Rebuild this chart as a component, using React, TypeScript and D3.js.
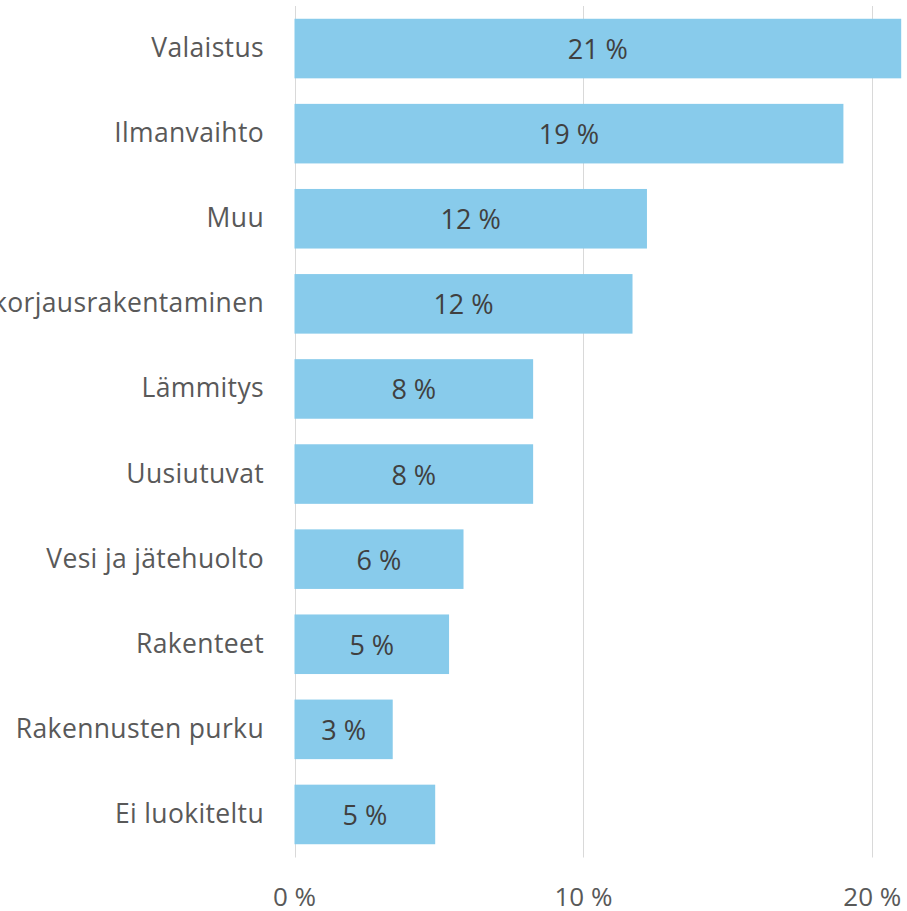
import * as d3 from "d3";

const categories = [
  "Valaistus",
  "Ilmanvaihto",
  "Muu",
  "Energiakorjausrakentaminen",
  "Lämmitys",
  "Uusiutuvat",
  "Vesi ja jätehuolto",
  "Rakenteet",
  "Rakennusten purku",
  "Ei luokiteltu",
];

const shares = [21.0, 19.0, 12.2, 11.7, 8.26, 8.26, 5.85, 5.35, 3.4, 4.87];

const xTicks = [0, 10, 20];

const width = 907;
const height = 911;
const margin = { top: 6, right: 6, bottom: 54, left: 294.5 };

export default function App() {
  const x = d3
    .scaleLinear()
    .domain([0, 20])
    .range([margin.left, margin.left + 577.8]);

  const y = d3
    .scaleBand<string>()
    .domain(categories)
    .range([margin.top, height - margin.bottom])
    .paddingInner(0.3)
    .paddingOuter(0.15);

  const font = "'Open Sans', sans-serif";
  const gridBottom = height - margin.bottom + 0.5;

  return (
    <svg
      width={width}
      height={height}
      style={{ position: "absolute", left: 0, top: 0, background: "#fff" }}
      fontFamily={font}
    >
      {xTicks.map((t) => (
        <line
          key={`g${t}`}
          x1={Math.round(x(t)) + 0.5}
          x2={Math.round(x(t)) + 0.5}
          y1={margin.top}
          y2={gridBottom}
          stroke="#d9d9d9"
          strokeWidth={1}
        />
      ))}

      {categories.map((c, i) => {
        const y0 = y(c) ?? 0;
        const cy = y0 + y.bandwidth() / 2;
        return (
          <g key={c}>
            <rect
              x={x(0)}
              y={y0}
              width={x(shares[i]) - x(0)}
              height={y.bandwidth()}
              fill="#88cbeb"
            />
            <text
              x={(x(0) + x(shares[i])) / 2}
              y={cy + 10.5}
              textAnchor="middle"
              fontSize={27}
              fill="#404040"
            >
              {`${d3.format(".0f")(shares[i])} %`}
            </text>
            <text
              x={264}
              y={cy + 8.5}
              textAnchor="end"
              fontSize={26.5}
              letterSpacing={0.35}
              fill="#595959"
            >
              {c}
            </text>
          </g>
        );
      })}

      {xTicks.map((t) => (
        <text
          key={`t${t}`}
          x={x(t)}
          y={906}
          textAnchor="middle"
          fontSize={26}
          fill="#595959"
        >
          {`${t} %`}
        </text>
      ))}
    </svg>
  );
}
